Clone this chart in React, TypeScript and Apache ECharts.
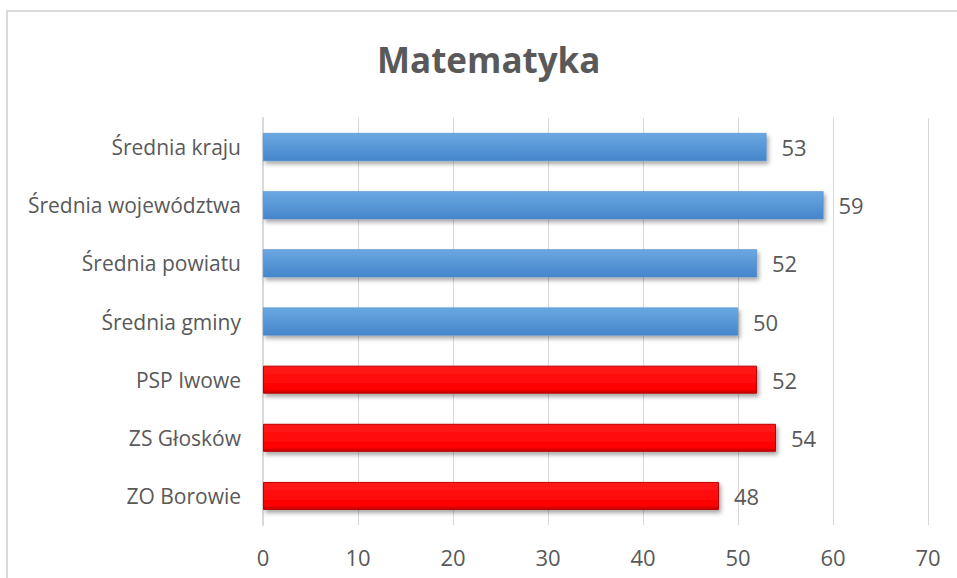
import React, { useEffect, useRef } from "react";
import * as echarts from "echarts";

const categories = [
  "Średnia kraju",
  "Średnia województwa",
  "Średnia powiatu",
  "Średnia gminy",
  "PSP Iwowe",
  "ZS Głosków",
  "ZO Borowie",
];
const values = [53, 59, 52, 50, 52, 54, 48];
const isSchool = [false, false, false, false, true, true, true];
const xTicks = { min: 0, max: 70, interval: 10 };

const FONT = "'Open Sans', 'Noto Sans', sans-serif";

export default function App() {
  const ref = useRef<HTMLDivElement>(null);
  useEffect(() => {
    if (!ref.current) return;
    const chart = echarts.init(ref.current, undefined, { renderer: "svg" });
    const blue = new echarts.graphic.LinearGradient(0, 0, 0, 1, [
      { offset: 0, color: "#6aa8e2" },
      { offset: 1, color: "#4585cb" },
    ]);
    const red = new echarts.graphic.LinearGradient(0, 0, 0, 1, [
      { offset: 0, color: "#ff1a1a" },
      { offset: 0.85, color: "#ff0000" },
      { offset: 1, color: "#c00000" },
    ]);
    chart.setOption({
      animation: false,
      backgroundColor: "#ffffff",
      title: {
        text: "Matematyka",
        left: 372,
        top: 37,
        textStyle: { fontFamily: FONT, fontSize: 35, fontWeight: "bold", color: "#595959" },
      },
      graphic: [
        {
          type: "rect",
          shape: { x: 7, y: 11, width: 980, height: 600 },
          style: { fill: "none", stroke: "#d9d9d9", lineWidth: 2 },
          silent: true,
        },
      ],
      grid: { left: 263, right: 29, top: 118, bottom: 53, containLabel: false },
      xAxis: {
        type: "value",
        min: xTicks.min,
        max: xTicks.max,
        interval: xTicks.interval,
        axisLine: { show: false },
        axisTick: { show: false },
        splitLine: { show: true, lineStyle: { color: "#d9d9d9", width: 1 } },
        axisLabel: { margin: 21, color: "#595959", fontSize: 22, fontFamily: FONT },
      },
      yAxis: {
        type: "category",
        data: categories,
        inverse: true,
        axisLine: { show: true, lineStyle: { color: "#d9d9d9", width: 2 } },
        axisTick: { show: false },
        axisLabel: { margin: 22, color: "#595959", fontSize: 21, fontFamily: FONT },
      },
      series: [
        {
          type: "bar",
          barWidth: 28,
          data: values.map((v, i) => ({
            value: v,
            itemStyle: isSchool[i]
              ? { color: red, borderColor: "#c00000", borderWidth: 1 }
              : { color: blue, borderColor: "#4a86c8", borderWidth: 0.5 },
          })),
          itemStyle: {
            shadowBlur: 4,
            shadowOffsetX: 2,
            shadowOffsetY: 3,
            shadowColor: "rgba(0,0,0,0.35)",
          },
          label: {
            show: true,
            position: "right",
            distance: 15,
            color: "#595959",
            fontSize: 22,
            fontFamily: FONT,
          },
        },
      ],
    });
    return () => chart.dispose();
  }, []);
  return (
    <div
      ref={ref}
      style={{ position: "fixed", left: 0, top: 0, width: 957, height: 578 }}
    />
  );
}
